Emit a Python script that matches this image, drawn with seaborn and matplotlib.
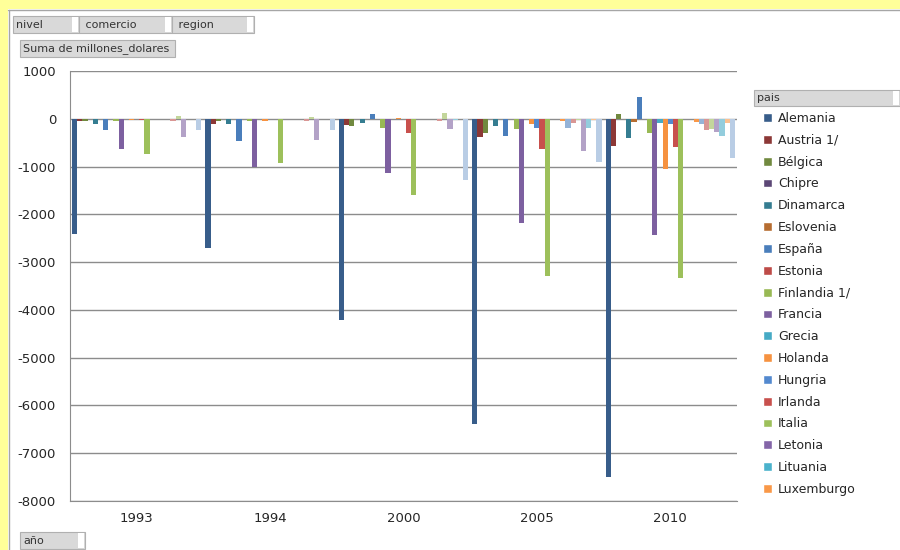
import numpy as np
import pandas as pd
import matplotlib
matplotlib.use('Agg')
import matplotlib.pyplot as plt
from matplotlib.patches import Rectangle, Patch
import seaborn as sb

years = ['1993', '1994', '2000', '2005', '2010']

countries = ['Alemania', 'Austria 1/', 'Bélgica', 'Chipre', 'Dinamarca', 'Eslovenia',
             'España', 'Estonia', 'Finlandia 1/', 'Francia', 'Grecia', 'Holanda',
             'Hungria', 'Irlanda', 'Italia', 'Letonia', 'Lituania', 'Luxemburgo',
             'Malta', 'Polonia', 'Portugal', 'Reino Unido', 'República Checa',
             'República Eslovaca', 'Suecia']

# millones de dolares, one list per year in the order of `countries`
v1993 = [-2410, -55, -40, 0, -100, 0, -230, 0, -40, -635, 0, -30, 0, -20, -740,
         0, 0, 0, 0, -50, 60, -385, 0, 0, -245]
v1994 = [-2705, -100, -55, 0, -100, 0, -475, 0, -50, -1010, 0, -50, 0, -15, -930,
         0, 0, -10, 0, -40, 30, -440, 0, 0, -245]
v2000 = [-4205, -130, -145, 0, -80, 0, 95, 0, -200, -1140, 0, 20, 0, -290, -1595,
         0, 0, 0, 0, -45, 115, -215, -20, -10, -1280]
v2005 = [-6390, -375, -290, -5, -145, -10, -360, -10, -220, -2190, 0, -110, -200, -640, -3290,
         0, 0, -55, -200, -80, -20, -670, -200, -30, -910]
v2010 = [-7500, -570, 100, 0, -410, -65, 450, -10, -305, -2430, -80, -1060, -110, -600, -3330,
         0, 0, -65, -110, -235, -215, -270, -355, -80, -830]

colors = ['#385D8A', '#8C3836', '#71893F', '#5C4776', '#357D91', '#B66D31',
          '#4A7EBB', '#BE4B48', '#98B954', '#7D60A0', '#46AAC5', '#F69240',
          '#5389CF', '#C8504D', '#9DC05B', '#8466A8', '#4BB2CC', '#F99848',
          '#95B3D7', '#D99694', '#C3D69B', '#B3A2C7', '#93CDDD', '#FAC090',
          '#B9CDE5']

all_vals = [v1993, v1994, v2000, v2005, v2010]
rows = []
for yr, vals in zip(years, all_vals):
    for c, v in zip(countries, vals):
        rows.append({'año': yr, 'pais': c, 'millones_dolares': v})
df = pd.DataFrame(rows)

sb.set_style('white')
plt.rcParams['font.family'] = ['DejaVu Sans']
plt.rcParams['axes.unicode_minus'] = False

W, H = 900, 550
fig = plt.figure(figsize=(9, 5.5), dpi=100)
ax = fig.add_axes([70 / W, 1 - 501 / H, (737 - 70) / W, (501 - 71) / H])

sb.barplot(data=df, x='año', y='millones_dolares', hue='pais', order=years,
           hue_order=countries, palette=colors, errorbar=None, width=0.97,
           gap=0, legend=False, saturation=1, ax=ax, linewidth=0)

ax.set_ylim(-8000, 1000)
ax.set_xlim(-0.5, 4.5)
ax.set_yticks(np.arange(-8000, 1001, 1000))
ax.set_yticklabels([str(t) for t in range(-8000, 1001, 1000)])
ax.yaxis.grid(True, color='#8C8C8C', linewidth=1)
ax.set_axisbelow(True)
ax.set_xlabel('')
ax.set_ylabel('')
for s in ['top', 'right']:
    ax.spines[s].set_visible(False)
ax.spines['left'].set_color('#8C8C8C')
ax.spines['bottom'].set_color('#8C8C8C')
ax.tick_params(axis='y', length=4, color='#8C8C8C', labelsize=9.5, pad=6)
ax.tick_params(axis='x', length=0, labelsize=9.5, pad=8)

# legend (only first 18 visible, as in the reference)
handles = [Patch(facecolor=colors[i], label=countries[i]) for i in range(18)]
fig.legend(handles=handles, loc='upper left', bbox_to_anchor=(758 / W, 1 - 107 / H),
           frameon=False, fontsize=9, handlelength=0.7, handleheight=0.7,
           handletextpad=0.5, labelspacing=0.705, borderaxespad=0)

# yellow frame strips
fig.add_artist(Rectangle((0, 1 - 9 / H), 1, 9 / H, transform=fig.transFigure,
                         facecolor='#FFFF99', edgecolor='none'))
fig.add_artist(Rectangle((0, 0), 8 / W, 1, transform=fig.transFigure,
                         facecolor='#FFFF99', edgecolor='none'))
fig.add_artist(plt.Line2D([8 / W, 1], [1 - 9.5 / H, 1 - 9.5 / H], transform=fig.transFigure,
                          color='#A6A6A6', linewidth=1))
fig.add_artist(plt.Line2D([8.5 / W, 8.5 / W], [0, 1 - 9.5 / H], transform=fig.transFigure,
                          color='#A6A6A6', linewidth=1))


def button(x0, y0, x1, y1, text, drop=True):
    fig.add_artist(Rectangle((x0 / W, 1 - y1 / H), (x1 - x0) / W, (y1 - y0) / H,
                             transform=fig.transFigure, facecolor='#D9D9D9',
                             edgecolor='#B0B0B0', linewidth=0.8))
    fig.text((x0 + 3) / W, 1 - (y0 + y1) / 2 / H, text, fontsize=8, color='#333333',
             ha='left', va='center')
    if drop:
        fig.add_artist(Rectangle(((x1 - 7) / W, 1 - (y1 - 1) / H), 6 / W, (y1 - y0 - 2) / H,
                                 transform=fig.transFigure, facecolor='white',
                                 edgecolor='none'))


button(13, 16, 79, 33, 'nivel')
button(79, 16, 172, 33, ' comercio')
button(172, 16, 254, 33, ' region')
button(20, 40, 175, 57, 'Suma de millones_dolares', drop=False)
button(754, 90, 900, 106, 'pais')
button(20, 532, 85, 549, 'año')

plt.savefig('out.png', dpi=100)
